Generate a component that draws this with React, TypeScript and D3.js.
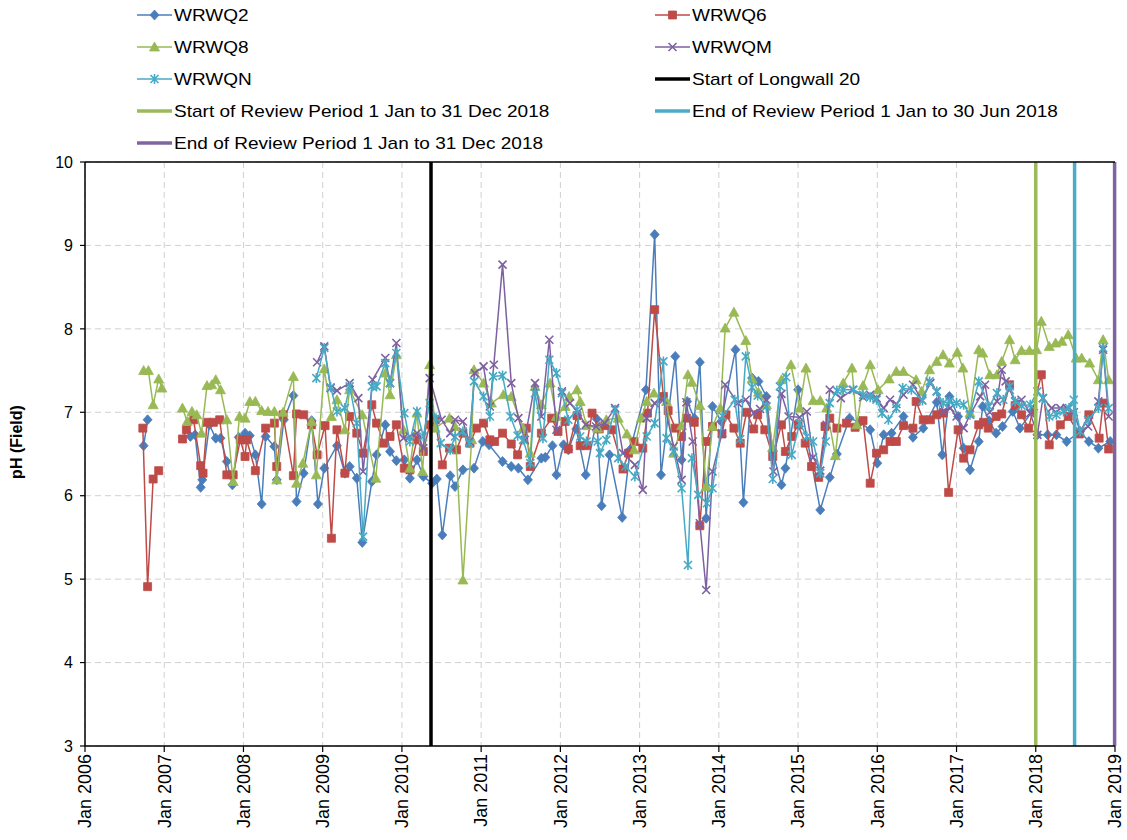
import React from "react";
import * as d3 from "d3";

type Pt = [number, number | null];

// WRWQ2 (blue diamonds)
const wrwq2: Pt[] = [
  [2006.74, 6.6], [2006.79, 6.91], [2007.0, null],
  [2007.33, 6.71], [2007.39, 6.73], [2007.46, 6.1], [2007.48, 6.19], [2007.57, 6.85], [2007.65, 6.69],
  [2007.71, 6.69], [2007.79, 6.41], [2007.86, 6.13], [2007.94, 6.7], [2008.02, 6.75], [2008.08, 6.72],
  [2008.15, 6.49], [2008.23, 5.9], [2008.28, 6.71], [2008.39, 6.59], [2008.42, 6.19], [2008.51, 6.91],
  [2008.63, 7.2], [2008.67, 5.93], [2008.76, 6.27], [2008.86, 6.9], [2008.94, 5.9], [2009.02, 6.33],
  [2009.18, 6.6], [2009.28, 6.27], [2009.34, 6.35], [2009.43, 6.21], [2009.5, 5.44], [2009.62, 6.17],
  [2009.68, 6.49], [2009.79, 6.85], [2009.85, 6.53], [2009.93, 6.42], [2010.03, 6.43], [2010.1, 6.21],
  [2010.19, 6.43], [2010.27, 6.23], [2010.38, 6.15], [2010.44, 6.2], [2010.51, 5.53], [2010.61, 6.24],
  [2010.67, 6.11], [2010.77, 6.31], [2010.91, 6.33], [2011.02, 6.65], [2011.1, 6.61], [2011.27, 6.41],
  [2011.38, 6.35], [2011.47, 6.33], [2011.59, 6.19], [2011.76, 6.45], [2011.81, 6.46], [2011.9, 6.6],
  [2011.95, 6.25], [2012.04, 6.61], [2012.1, 6.55], [2012.2, 6.8], [2012.32, 6.25], [2012.46, 6.92],
  [2012.52, 5.88], [2012.62, 6.49], [2012.78, 5.74], [2012.88, 6.55], [2013.08, 7.27], [2013.19, 9.13],
  [2013.27, 6.25], [2013.45, 7.67], [2013.53, 6.43], [2013.6, 7.13], [2013.69, 6.93], [2013.76, 7.6],
  [2013.84, 5.73], [2013.92, 7.07], [2014.03, 6.89], [2014.21, 7.75], [2014.31, 5.92], [2014.42, 7.41],
  [2014.5, 7.37], [2014.6, 7.19], [2014.68, 6.53], [2014.79, 6.13], [2014.84, 6.33], [2015.0, 7.27],
  [2015.28, 5.83], [2015.4, 6.22], [2015.49, 6.5], [2015.65, 6.93], [2015.78, 6.88], [2015.91, 6.79],
  [2016.0, 6.39], [2016.08, 6.73], [2016.18, 6.75], [2016.33, 6.95], [2016.45, 6.7], [2016.58, 6.81],
  [2016.75, 7.12], [2016.82, 6.49], [2016.91, 7.19], [2017.02, 6.95], [2017.09, 6.57], [2017.17, 6.31],
  [2017.28, 6.65], [2017.33, 7.07], [2017.41, 6.9], [2017.5, 6.75], [2017.58, 6.83], [2017.71, 7.01],
  [2017.8, 6.81], [2017.97, 7.03], [2018.02, 6.73], [2018.15, 6.73], [2018.26, 6.73], [2018.39, 6.65],
  [2018.56, 6.77], [2018.67, 6.65], [2018.79, 6.57], [2018.94, 6.65],
];

// WRWQ6 (red squares)
const wrwq6: Pt[] = [
  [2006.73, 6.81], [2006.79, 4.91], [2006.86, 6.2], [2006.93, 6.3], [2007.0, null],
  [2007.23, 6.68], [2007.28, 6.79], [2007.37, 6.91], [2007.46, 6.36], [2007.49, 6.27], [2007.54, 6.88],
  [2007.62, 6.88], [2007.7, 6.91], [2007.79, 6.25], [2007.87, 6.25], [2007.96, 6.67], [2008.02, 6.47],
  [2008.04, 6.67], [2008.15, 6.3], [2008.28, 6.81], [2008.39, 6.87], [2008.42, 6.35], [2008.5, 6.97],
  [2008.63, 6.24], [2008.67, 6.98], [2008.76, 6.97], [2008.86, 6.85], [2008.93, 6.49], [2009.03, 6.84],
  [2009.11, 5.49], [2009.18, 6.79], [2009.28, 6.27], [2009.34, 6.95], [2009.43, 6.75], [2009.51, 6.51],
  [2009.62, 7.09], [2009.68, 6.87], [2009.77, 6.63], [2009.85, 6.71], [2009.93, 6.85], [2010.03, 6.33],
  [2010.1, 6.31], [2010.19, 6.67], [2010.27, 6.53], [2010.35, 6.85], [2010.42, 6.91], [2010.51, 6.37],
  [2010.6, 6.57], [2010.69, 6.55], [2010.77, 6.75], [2010.86, 6.63], [2010.94, 6.81], [2011.03, 6.87],
  [2011.11, 6.67], [2011.17, 6.65], [2011.27, 6.75], [2011.38, 6.62], [2011.46, 6.49], [2011.57, 6.81],
  [2011.62, 6.35], [2011.76, 6.75], [2011.89, 6.93], [2011.97, 6.77], [2012.06, 6.89], [2012.1, 6.56],
  [2012.21, 6.96], [2012.25, 6.6], [2012.33, 6.6], [2012.4, 6.99], [2012.49, 6.8], [2012.56, 6.84],
  [2012.65, 6.79], [2012.79, 6.32], [2012.86, 6.51], [2012.93, 6.65], [2013.04, 6.57], [2013.1, 6.99],
  [2013.19, 8.23], [2013.3, 7.19], [2013.36, 7.02], [2013.45, 6.81], [2013.53, 6.71], [2013.59, 6.93],
  [2013.69, 6.88], [2013.76, 5.64], [2013.84, 6.65], [2013.92, 6.83], [2014.04, 6.74], [2014.09, 6.97],
  [2014.19, 6.81], [2014.27, 6.63], [2014.35, 7.0], [2014.44, 6.8], [2014.49, 6.97], [2014.58, 6.79],
  [2014.68, 6.47], [2014.79, 6.85], [2014.84, 6.53], [2014.92, 6.71], [2015.0, 6.85], [2015.09, 6.63],
  [2015.17, 6.35], [2015.26, 6.22], [2015.34, 6.83], [2015.4, 6.93], [2015.49, 6.81], [2015.61, 6.87],
  [2015.72, 6.82], [2015.82, 6.9], [2015.91, 6.15], [2015.99, 6.51], [2016.08, 6.55], [2016.16, 6.65],
  [2016.24, 6.65], [2016.33, 6.84], [2016.45, 6.81], [2016.49, 7.13], [2016.58, 6.91], [2016.67, 6.91],
  [2016.75, 6.97], [2016.83, 6.99], [2016.9, 6.04], [2017.02, 6.79], [2017.09, 6.45], [2017.17, 6.55],
  [2017.28, 6.85], [2017.34, 6.88], [2017.4, 6.81], [2017.5, 6.95], [2017.57, 6.98], [2017.67, 7.33],
  [2017.74, 7.08], [2017.82, 6.97], [2017.91, 6.81], [2018.07, 7.45], [2018.17, 6.61], [2018.31, 6.85],
  [2018.41, 6.95], [2018.55, 6.74], [2018.67, 6.97], [2018.8, 6.69], [2018.85, 7.11], [2018.92, 6.56],
];

// WRWQ8 (green triangles)
const wrwq8: Pt[] = [
  [2006.74, 7.5], [2006.8, 7.5], [2006.86, 7.09], [2006.93, 7.4], [2006.97, 7.29], [2007.1, null],
  [2007.23, 7.05], [2007.29, 6.89], [2007.35, 7.01], [2007.41, 6.97], [2007.47, 6.75], [2007.54, 7.32],
  [2007.6, 7.33], [2007.65, 7.39], [2007.71, 7.27], [2007.79, 6.91], [2007.87, 6.17], [2007.95, 6.95],
  [2008.02, 6.93], [2008.08, 7.13], [2008.15, 7.13], [2008.23, 7.02], [2008.31, 7.01], [2008.39, 7.01],
  [2008.42, 6.19], [2008.5, 7.0], [2008.63, 7.43], [2008.67, 6.15], [2008.75, 6.39], [2008.86, 6.89],
  [2008.92, 6.25], [2009.02, 7.52], [2009.11, 6.95], [2009.18, 7.15], [2009.28, 6.79], [2009.34, 7.27],
  [2009.5, 6.97], [2009.67, 6.21], [2009.79, 7.47], [2009.85, 7.21], [2009.93, 7.69], [2010.02, 6.79],
  [2010.1, 6.33], [2010.19, 6.99], [2010.26, 6.29], [2010.35, 7.57], [2010.42, 6.81], [2010.6, 6.93],
  [2010.67, 6.83], [2010.77, 4.99], [2010.88, 6.67], [2010.91, 7.51], [2011.03, 7.35], [2011.13, 7.11],
  [2011.28, 7.21], [2011.38, 7.19], [2011.53, 6.81], [2011.62, 6.51], [2011.68, 7.31], [2011.76, 7.09],
  [2011.87, 7.35], [2011.95, 6.95], [2012.06, 7.07], [2012.11, 7.19], [2012.21, 7.27], [2012.25, 7.13],
  [2012.33, 6.84], [2012.47, 6.81], [2012.58, 6.91], [2012.73, 6.93], [2012.84, 6.74], [2012.93, 6.55],
  [2013.02, 6.93], [2013.09, 7.13], [2013.18, 7.23], [2013.34, 7.13], [2013.43, 6.51], [2013.53, 6.84],
  [2013.61, 7.45], [2013.66, 7.36], [2013.76, 7.08], [2013.84, 6.11], [2013.92, 6.83], [2014.02, 7.05],
  [2014.08, 8.01], [2014.19, 8.2], [2014.34, 7.86], [2014.42, 7.4], [2014.5, 7.24], [2014.6, 7.09],
  [2014.68, 6.58], [2014.79, 7.39], [2014.91, 7.57], [2015.02, 7.05], [2015.1, 7.53], [2015.19, 7.14],
  [2015.28, 7.14], [2015.36, 7.05], [2015.47, 6.48], [2015.57, 7.35], [2015.68, 7.53], [2015.74, 6.85],
  [2015.82, 7.32], [2015.91, 7.57], [2016.01, 7.27], [2016.15, 7.4], [2016.24, 7.49], [2016.33, 7.49],
  [2016.49, 7.39], [2016.56, 7.25], [2016.66, 7.51], [2016.75, 7.61], [2016.83, 7.69], [2016.91, 7.59],
  [2017.01, 7.72], [2017.08, 7.53], [2017.17, 6.99], [2017.28, 7.75], [2017.33, 7.71], [2017.42, 7.45],
  [2017.51, 7.45], [2017.57, 7.61], [2017.67, 7.87], [2017.74, 7.63], [2017.82, 7.74], [2017.92, 7.74],
  [2018.01, 7.75], [2018.07, 8.09], [2018.17, 7.79], [2018.25, 7.83], [2018.33, 7.85], [2018.41, 7.93],
  [2018.51, 7.65], [2018.58, 7.65], [2018.68, 7.59], [2018.79, 7.39], [2018.85, 7.87], [2018.92, 7.39],
];

// WRWQM (purple crosses)
const wrwqm: Pt[] = [
  [2008.93, 7.6], [2009.02, 7.79], [2009.1, 7.29], [2009.18, 7.26], [2009.34, 7.35], [2009.45, 7.17],
  [2009.51, 6.29], [2009.63, 7.39], [2009.79, 7.65], [2009.85, 7.35], [2009.93, 7.83], [2010.02, 6.69],
  [2010.1, 6.71], [2010.19, 6.75], [2010.27, 6.57], [2010.35, 7.41], [2010.5, 6.91], [2010.61, 6.75],
  [2010.67, 6.91], [2010.77, 6.89], [2010.85, 6.65], [2010.92, 7.47], [2011.03, 7.55], [2011.11, 7.07],
  [2011.16, 7.57], [2011.27, 8.77], [2011.38, 7.35], [2011.47, 6.93], [2011.55, 6.67], [2011.68, 7.35],
  [2011.76, 6.95], [2011.86, 7.87], [2011.95, 6.79], [2012.02, 7.25], [2012.12, 7.11], [2012.22, 7.0],
  [2012.32, 6.85], [2012.45, 6.83], [2012.56, 6.87], [2012.69, 7.05], [2012.79, 6.51], [2012.94, 6.37],
  [2013.04, 6.07], [2013.09, 6.93], [2013.19, 7.11], [2013.3, 7.15], [2013.43, 6.59], [2013.53, 6.19],
  [2013.59, 7.12], [2013.67, 6.65], [2013.76, 5.67], [2013.84, 4.87], [2013.92, 6.29], [2014.04, 6.75],
  [2014.08, 7.33], [2014.24, 7.11], [2014.34, 7.15], [2014.44, 6.99], [2014.52, 7.04], [2014.6, 7.15],
  [2014.69, 6.29], [2014.79, 7.22], [2014.88, 6.95], [2015.02, 6.94], [2015.11, 7.01], [2015.19, 6.46],
  [2015.28, 6.3], [2015.36, 6.85], [2015.4, 7.27], [2015.54, 7.17], [2015.69, 7.27], [2015.82, 7.18],
  [2015.91, 7.21], [2015.99, 7.17], [2016.08, 7.05], [2016.16, 7.15], [2016.24, 7.1], [2016.33, 7.21],
  [2016.45, 7.33], [2016.56, 7.15], [2016.67, 7.35], [2016.75, 7.25], [2016.83, 7.01], [2016.92, 7.05],
  [2017.0, 6.95], [2017.09, 6.81], [2017.17, 6.97], [2017.3, 7.19], [2017.36, 7.33], [2017.42, 7.0],
  [2017.51, 7.13], [2017.57, 7.51], [2017.62, 7.37], [2017.67, 7.27], [2017.74, 7.13], [2017.82, 7.15],
  [2017.93, 6.99], [2018.02, 6.73], [2018.09, 7.17], [2018.2, 7.05], [2018.31, 7.05], [2018.39, 7.05],
  [2018.48, 7.0], [2018.56, 6.77], [2018.66, 6.83], [2018.79, 7.13], [2018.85, 7.75], [2018.92, 6.95],
];

// WRWQN (cyan asterisks)
const wrwqn: Pt[] = [
  [2008.92, 7.41], [2009.02, 7.77], [2009.1, 7.3], [2009.18, 7.01], [2009.28, 7.05], [2009.34, 7.31],
  [2009.43, 6.87], [2009.51, 5.51], [2009.62, 7.31], [2009.68, 7.31], [2009.79, 7.59], [2009.85, 7.35],
  [2009.93, 7.71], [2010.03, 6.99], [2010.1, 6.65], [2010.19, 7.01], [2010.27, 6.71], [2010.35, 7.11],
  [2010.43, 6.93], [2010.49, 6.63], [2010.61, 6.55], [2010.67, 6.71], [2010.77, 6.77], [2010.85, 6.63],
  [2010.91, 7.37], [2011.03, 7.19], [2011.11, 6.95], [2011.15, 7.43], [2011.27, 7.44], [2011.37, 6.95],
  [2011.46, 6.72], [2011.53, 6.67], [2011.62, 6.39], [2011.68, 7.23], [2011.78, 6.69], [2011.86, 7.63],
  [2011.95, 7.47], [2012.02, 7.23], [2012.1, 6.91], [2012.21, 7.03], [2012.25, 6.71], [2012.33, 6.65],
  [2012.47, 6.65], [2012.5, 6.51], [2012.58, 6.67], [2012.69, 7.03], [2012.73, 6.45], [2012.82, 6.35],
  [2012.94, 6.23], [2013.09, 6.71], [2013.19, 6.87], [2013.3, 7.61], [2013.34, 6.69], [2013.43, 6.53],
  [2013.53, 6.09], [2013.61, 5.17], [2013.66, 6.45], [2013.74, 6.01], [2013.85, 5.91], [2013.92, 6.09],
  [2014.05, 6.95], [2014.2, 7.15], [2014.27, 6.68], [2014.34, 7.67], [2014.42, 7.3], [2014.49, 7.2],
  [2014.6, 7.07], [2014.68, 6.2], [2014.77, 7.31], [2014.85, 7.42], [2014.92, 6.49], [2015.02, 6.87],
  [2015.11, 6.71], [2015.19, 6.65], [2015.28, 6.27], [2015.35, 6.65], [2015.4, 7.11], [2015.49, 7.26],
  [2015.57, 7.27], [2015.7, 7.27], [2015.82, 7.21], [2015.91, 7.18], [2015.99, 7.15], [2016.06, 6.99],
  [2016.14, 6.91], [2016.24, 7.05], [2016.32, 7.29], [2016.43, 7.27], [2016.57, 7.14], [2016.66, 7.37],
  [2016.75, 7.25], [2016.83, 7.11], [2016.91, 7.13], [2017.0, 7.11], [2017.09, 7.09], [2017.17, 6.97],
  [2017.28, 7.37], [2017.41, 7.07], [2017.51, 7.23], [2017.59, 7.15], [2017.67, 7.31], [2017.74, 7.13],
  [2017.82, 7.08], [2017.93, 7.09], [2018.02, 7.25], [2018.09, 7.17], [2018.17, 6.95], [2018.26, 6.97],
  [2018.35, 7.01], [2018.42, 7.05], [2018.48, 7.15], [2018.56, 6.77], [2018.66, 6.91], [2018.79, 7.05],
  [2018.85, 7.77], [2018.92, 7.05],
];

const seriesNames = ["WRWQ2", "WRWQ6", "WRWQ8", "WRWQM", "WRWQN"];
const seriesColors = ["#4A7EBB", "#BE4B48", "#98B954", "#7D60A0", "#46AAC5"];
const seriesMarkers = ["diamond", "square", "triangle", "x", "star"];
const seriesData = [wrwq2, wrwq6, wrwq8, wrwqm, wrwqn];

const eventNames = [
  "Start of Longwall 20",
  "Start of Review Period 1 Jan to 31 Dec 2018",
  "End of Review Period 1 Jan to 30 Jun 2018",
  "End of Review Period 1 Jan to 31 Dec 2018",
];
const eventDates = [2010.367, 2018.0, 2018.49, 2018.995];
const eventColors = ["#000000", "#9BBB59", "#4BACC6", "#8064A2"];

const yTicks = [3, 4, 5, 6, 7, 8, 9, 10];
const xTickYears = d3.range(2006, 2020);

function markerPath(type: string): string {
  switch (type) {
    case "diamond":
      return "M0,-5L4.5,0L0,5L-4.5,0Z";
    case "square":
      return "M-4,-4H4V4H-4Z";
    case "triangle":
      return "M0,-5L5,4L-5,4Z";
    case "x":
      return "M-4,-4L4,4M-4,4L4,-4";
    default:
      return "M-4,-4L4,4M-4,4L4,-4M0,-5V5";
  }
}

function Marker({ type, color, cx, cy }: { type: string; color: string; cx: number; cy: number }) {
  const stroked = type === "x" || type === "star";
  return (
    <path
      d={markerPath(type)}
      transform={`translate(${cx},${cy})`}
      fill={stroked ? "none" : color}
      stroke={color}
      strokeWidth={stroked ? 1.6 : 0.8}
    />
  );
}

export default function App() {
  const W = 1127;
  const H = 840;
  const left = 85, right = 1115, top = 162, bottom = 746;
  const x = d3.scaleLinear().domain([2006, 2019]).range([left, right]);
  const y = d3.scaleLinear().domain([3, 10]).range([bottom, top]);
  const line = d3
    .line<Pt>()
    .defined((d) => d[1] !== null)
    .x((d) => x(d[0]))
    .y((d) => y(d[1] as number));

  const font = "Arial, 'Liberation Sans', sans-serif";

  const legendItems = [
    ...seriesNames.map((n, i) => ({ name: n, color: seriesColors[i], marker: seriesMarkers[i] as string | null })),
    ...eventNames.map((n, i) => ({ name: n, color: eventColors[i], marker: null as string | null })),
  ];

  return (
    <svg width={W} height={H} style={{ position: "absolute", left: 0, top: 0, background: "#fff" }} fontFamily={font}>
      <rect x={0} y={0} width={W} height={H} fill="#fff" />
      {/* legend */}
      {legendItems.map((it, i) => {
        const col = i % 2;
        const row = Math.floor(i / 2);
        const lx = col === 0 ? 137 : 655;
        const ly = 15 + row * 32;
        return (
          <g key={it.name}>
            {it.marker ? (
              <>
                <line x1={lx} x2={lx + 35} y1={ly} y2={ly} stroke={it.color} strokeWidth={1.5} />
                <Marker type={it.marker} color={it.color} cx={lx + 17.5} cy={ly} />
              </>
            ) : (
              <line x1={lx} x2={lx + 35} y1={ly} y2={ly} stroke={it.color} strokeWidth={3.5} />
            )}
            <text
              transform={`translate(${lx + 37},${ly}) scale(1.12,1)`}
              dy="0.36em"
              fontSize={17}
              fill="#000"
            >
              {it.name}
            </text>
          </g>
        );
      })}

      {/* gridlines */}
      {yTicks.map((t) => (
        <line key={"gy" + t} x1={left} x2={right} y1={y(t)} y2={y(t)} stroke="#d0d0d0" strokeDasharray="6,4" />
      ))}
      {xTickYears.map((t) => (
        <line key={"gx" + t} x1={x(t)} x2={x(t)} y1={top} y2={bottom} stroke="#d0d0d0" strokeDasharray="6,4" />
      ))}

      {/* series */}
      {seriesData.map((data, si) => (
        <g key={seriesNames[si]}>
          <path d={line(data) || ""} fill="none" stroke={seriesColors[si]} strokeWidth={1.5} />
          {data
            .filter((d) => d[1] !== null)
            .map((d, j) => (
              <Marker key={j} type={seriesMarkers[si]} color={seriesColors[si]} cx={x(d[0])} cy={y(d[1] as number)} />
            ))}
        </g>
      ))}

      {/* event lines */}
      {eventDates.map((d, i) => (
        <line key={"ev" + i} x1={x(d)} x2={x(d)} y1={top} y2={bottom} stroke={eventColors[i]} strokeWidth={3.5} />
      ))}

      {/* frame */}
      <line x1={left} x2={right} y1={top} y2={top} stroke="#000" strokeWidth={1.5} />
      <line x1={left} x2={left} y1={top} y2={bottom} stroke="#000" strokeWidth={1.5} />
      <line x1={left} x2={right} y1={bottom} y2={bottom} stroke="#000" strokeWidth={1.5} />

      {/* y axis */}
      {yTicks.map((t) => (
        <g key={"yt" + t}>
          <line x1={left - 5} x2={left} y1={y(t)} y2={y(t)} stroke="#000" strokeWidth={1.2} />
          <text x={left - 12} y={y(t)} dy="0.36em" textAnchor="end" fontSize={16} fill="#000">
            {t}
          </text>
        </g>
      ))}
      <text
        transform={`translate(22,${(top + bottom) / 2 - 12}) rotate(-90)`}
        textAnchor="middle"
        fontSize={16}
        fontWeight="bold"
        fill="#000"
      >
        pH (Field)
      </text>

      {/* x axis */}
      {xTickYears.map((t) => (
        <g key={"xt" + t}>
          <line x1={x(t)} x2={x(t)} y1={bottom} y2={bottom + 6} stroke="#000" strokeWidth={1.2} />
          <text
            transform={`translate(${x(t)},${bottom + 8}) rotate(-90)`}
            dy="0.35em"
            textAnchor="end"
            fontSize={18}
            fill="#000"
          >
            {"Jan " + t}
          </text>
        </g>
      ))}
    </svg>
  );
}
